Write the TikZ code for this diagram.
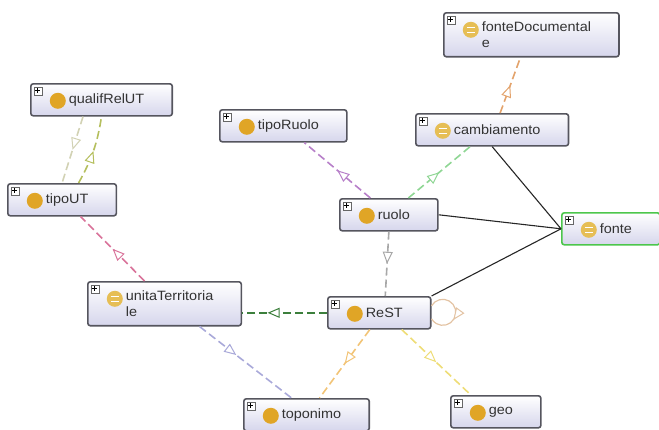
\documentclass[tikz,border=0pt]{standalone}
\usepackage{fontspec}
\newfontfamily\ogfont{Liberation Sans}[FakeStretch=1.07]
\usetikzlibrary{arrows.meta,decorations.markings}

% small pieces drawn inside every class box
\newcommand{\clsind}{\hspace*{10pt}}
\newcommand{\plusbox}{%
  \draw[sharp corners, line width=0.5pt, draw=gray!80!black, fill=white]
    ([shift={(3,-3)}]path picture bounding box.north west) rectangle ++(8,-8);
  \draw[sharp corners, line width=0.8pt, black]
    ([shift={(4.5,-7)}]path picture bounding box.north west) -- ++(5,0)
    ([shift={(7,-4.5)}]path picture bounding box.north west) -- ++(0,-5);}
\newcommand{\classdot}{%
  \fill[iconGold] ([shift={(27,-17)}]path picture bounding box.north west) circle[radius=8];}
\newcommand{\eqdot}{%
  \fill[iconEq] ([shift={(27,-17)}]path picture bounding box.north west) circle[radius=8];
  \draw[sharp corners, line width=1.3pt, white]
    ([shift={(23,-14.5)}]path picture bounding box.north west) -- ++(8,0)
    ([shift={(23,-19.5)}]path picture bounding box.north west) -- ++(8,0);}

\tikzset{
  cls/.style={draw=boxBorder, line width=1.6pt, rounded corners=2.5pt,
    top color=white, bottom color=boxFill, inner xsep=28pt, inner ysep=9pt,
    minimum height=32pt, anchor=north west, align=left, text=txtGrey,
    font=\ogfont\fontsize{13.5}{16}\selectfont,
    path picture={\plusbox \classdot}},
  eqcls/.style={cls, path picture={\plusbox \eqdot}},
  isa/.style={draw=#1, line width=1.6pt, dash pattern=on 8pt off 4pt,
    postaction={decorate}},
  tip/.style={decoration={markings, mark=at position #1 with
    {\arrow{Triangle[fill=white, length=12pt, width=10pt, line width=1pt]}}}},
  tip/.default=0.5,
  assoc/.style={draw=black!85, line width=1.1pt}
}

\begin{document}
\begin{tikzpicture}[x=1pt,y=1pt]
% Colors define
\definecolor{boxBorder}{HTML}{55555E}
\definecolor{boxFill}{HTML}{D6D6EC}
\definecolor{txtGrey}{HTML}{333333}
\definecolor{iconGold}{HTML}{E0A526}
\definecolor{iconEq}{HTML}{E6BE55}
\definecolor{focusGreen}{HTML}{4CC64C}
\definecolor{lnOrange}{HTML}{E3A36C}
\definecolor{lnBeige}{HTML}{D2D2B4}
\definecolor{lnOlive}{HTML}{B5BF5E}
\definecolor{lnPurple}{HTML}{B77FC9}
\definecolor{lnLightGreen}{HTML}{8FD694}
\definecolor{lnGrey}{HTML}{A8A8A8}
\definecolor{lnDarkGreen}{HTML}{3C7F3C}
\definecolor{lnPink}{HTML}{D9739A}
\definecolor{lnLavender}{HTML}{A9A9D9}
\definecolor{lnApricot}{HTML}{F2C477}
\definecolor{lnYellow}{HTML}{EEDD77}
\definecolor{lnLoop}{HTML}{E3C3A3}

\useasboundingbox (0,0) rectangle (659,-429);

% Classes
\node[eqcls] (fonteDocumentale) at (443,-12) {\clsind fonteDocumental\\\clsind e};
\node[cls] (qualifRelUT) at (30,-83) {\clsind qualifRelUT};
\node[cls] (tipoRuolo) at (219,-109) {\clsind tipoRuolo};
\node[eqcls] (cambiamento) at (415,-113) {\clsind cambiamento};
\node[cls] (tipoUT) at (7,-183) {\clsind tipoUT};
\node[cls] (ruolo) at (339,-198) {\clsind ruolo};
\node[eqcls, draw=focusGreen] (fonte) at (561,-212) {\clsind fonte};
\node[eqcls] (unitaTerritoriale) at (87,-281) {\clsind unitaTerritoria\\\clsind le};
\node[cls] (ReST) at (327,-296) {\clsind ReST};
\node[cls] (toponimo) at (243,-398) {\clsind toponimo};
\node[cls] (geo) at (450,-395) {\clsind geo};

% Subclass edges
\draw[isa=lnOrange, tip] ([xshift=8]cambiamento.north) -- ([xshift=-11]fonteDocumentale.south);
\draw[isa=lnBeige, tip] ([xshift=-18.5]qualifRelUT.south) -- (tipoUT.north);
\draw[isa=lnOlive, tip] ([xshift=16.5]tipoUT.north) to[bend right=10] (qualifRelUT.south);
\draw[isa=lnPurple, tip] ([xshift=-18.5]ruolo.north) -- ([xshift=21]tipoRuolo.south);
\draw[isa=lnLightGreen, tip] ([xshift=19.5]ruolo.north) -- ([xshift=-22]cambiamento.south);
\draw[isa=lnGrey, tip] (ruolo.south) -- ([xshift=6]ReST.north);
\draw[isa=lnDarkGreen, tip=0.7] (ReST.west) -- (ReST.west -| unitaTerritoriale.east);
\draw[isa=lnPink, tip] ([xshift=-20]unitaTerritoriale.north) -- ([xshift=18.5]tipoUT.south);
\draw[isa=lnLavender, tip=0.4] ([xshift=35]unitaTerritoriale.south) -- ([xshift=-15]toponimo.north);
\draw[isa=lnApricot, tip] ([xshift=-9.5]ReST.south) -- ([xshift=13]toponimo.north);
\draw[isa=lnYellow, tip] ([xshift=22.5]ReST.south) -- ([xshift=-25]geo.north);

% Self loop on ReST
\draw[draw=lnLoop, line width=1.2pt, tip=0.62, postaction={decorate}] ([yshift=7]ReST.east) arc[start angle=150, end angle=-150, radius=13];

% Links to fonte
\draw[assoc] (cambiamento.south) -- (fonte.west);
\draw[assoc] (ruolo.east) -- (fonte.west);
\draw[assoc] (ReST.north east) -- (fonte.west);
\end{tikzpicture}
\end{document}
